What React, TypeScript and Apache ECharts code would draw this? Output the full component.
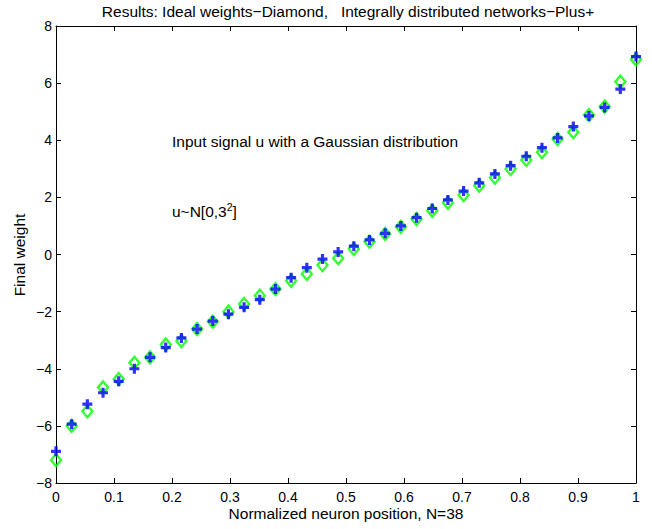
import React, { useEffect, useRef } from "react";
import * as echarts from "echarts";

const N = 38;
const positions: number[] = Array.from({ length: N }, (_, i) => i / (N - 1));

// Ideal weights (diamonds)
const idealWeights: number[] = [
  -7.2, -6.0, -5.49, -4.65, -4.36, -3.79, -3.6, -3.15, -3.03, -2.61, -2.35, -2.0,
  -1.73, -1.44, -1.21, -0.92, -0.68, -0.37, -0.13, 0.19, 0.45, 0.72, 0.97, 1.24,
  1.53, 1.81, 2.08, 2.41, 2.69, 2.99, 3.31, 3.58, 4.04, 4.28, 4.88, 5.18, 6.05, 6.83,
];

// Integrally distributed networks (plus)
const networkWeights: number[] = [
  -6.89, -5.94, -5.24, -4.84, -4.44, -4.0, -3.6, -3.26, -2.92, -2.61, -2.33, -2.09,
  -1.85, -1.58, -1.21, -0.81, -0.46, -0.16, 0.09, 0.29, 0.51, 0.74, 1.0, 1.29,
  1.61, 1.91, 2.22, 2.51, 2.82, 3.11, 3.44, 3.74, 4.08, 4.48, 4.85, 5.15, 5.79, 6.93,
];

const titleText = "Results: Ideal weights\u2212Diamond,   Integrally distributed networks\u2212Plus+";
const xName = "Normalized neuron position, N=38";
const yName = "Final weight";
const note1 = "Input signal u with a Gaussian distribution";

const FONT = '"Liberation Sans", Arial, Helvetica, sans-serif';
const PLUS = "path://M3.4,0H6.6V3.4H10V6.6H6.6V10H3.4V6.6H0V3.4H3.4Z";
const TXT = 15.5;

export default function App() {
  const ref = useRef<HTMLDivElement>(null);
  useEffect(() => {
    if (!ref.current) return;
    const chart = echarts.init(ref.current, undefined, { renderer: "svg" });
    const left = 56, top = 26, width = 580, height = 457;
    const axisCommon = {
      axisLine: { show: true, onZero: false, lineStyle: { color: "#000", width: 1 } },
      axisTick: { show: true, inside: true, length: 5, lineStyle: { color: "#000", width: 1 } },
      splitLine: { show: false },
    };
    const tickLabel = { color: "#000", fontSize: 14, fontFamily: FONT };
    chart.setOption({
      animation: false,
      backgroundColor: "#fff",
      grid: { left, top, width, height, containLabel: false },
      xAxis: [
        {
          type: "value", min: 0, max: 1, interval: 0.1, position: "bottom", ...axisCommon,
          axisLabel: { ...tickLabel, margin: 7, formatter: (v: number) => String(+v.toFixed(1)) },
        },
        {
          type: "value", min: 0, max: 1, interval: 0.1, position: "top", ...axisCommon,
          axisLabel: { show: false },
        },
      ],
      yAxis: [
        {
          type: "value", min: -8, max: 8, interval: 2, position: "left", ...axisCommon,
          axisLabel: { ...tickLabel, margin: 4, formatter: (v: number) => String(v).replace("-", "\u2212") },
        },
        {
          type: "value", min: -8, max: 8, interval: 2, position: "right", ...axisCommon,
          axisLabel: { show: false },
        },
      ],
      series: [
        {
          name: "Ideal weights",
          type: "scatter",
          data: positions.map((x, i) => [x, idealWeights[i]]),
          symbol: "diamond",
          symbolSize: [10, 12],
          itemStyle: { color: "rgba(0,0,0,0)", borderColor: "#00ff00", borderWidth: 2.4 },
          z: 2,
        },
        {
          name: "Integrally distributed networks",
          type: "scatter",
          data: positions.map((x, i) => [x, networkWeights[i]]),
          symbol: PLUS,
          symbolSize: 10,
          itemStyle: { color: "#0000ff" },
          z: 3,
        },
      ],
      graphic: [
        {
          type: "text", x: 348, y: 3,
          style: { text: titleText, fontSize: TXT, fontFamily: FONT, fill: "#000", align: "center", verticalAlign: "top" },
        },
        {
          type: "text", x: 346, y: 505,
          style: { text: xName, fontSize: TXT, fontFamily: FONT, fill: "#000", align: "center", verticalAlign: "top" },
        },
        {
          type: "text", x: 19, y: 255, rotation: Math.PI / 2,
          style: { text: yName, fontSize: TXT, fontFamily: FONT, fill: "#000", align: "center", verticalAlign: "middle" },
        },
        {
          type: "text", x: 172, y: 141,
          style: { text: note1, fontSize: TXT, fontFamily: FONT, fill: "#000", align: "left", verticalAlign: "middle" },
        },
        {
          type: "text", x: 172, y: 211,
          style: {
            text: "{a|u~N[0,3}{s|2}{a|]}",
            fill: "#000",
            align: "left",
            verticalAlign: "middle",
            rich: {
              a: { fontSize: TXT, fontFamily: FONT, fill: "#000" },
              s: { fontSize: 10.5, fontFamily: FONT, fill: "#000", padding: [0, 0, 9, 0] },
            },
          },
        },
      ],
    });
    return () => chart.dispose();
  }, []);
  return <div ref={ref} style={{ position: "fixed", left: 0, top: 0, width: 652, height: 529 }} />;
}
